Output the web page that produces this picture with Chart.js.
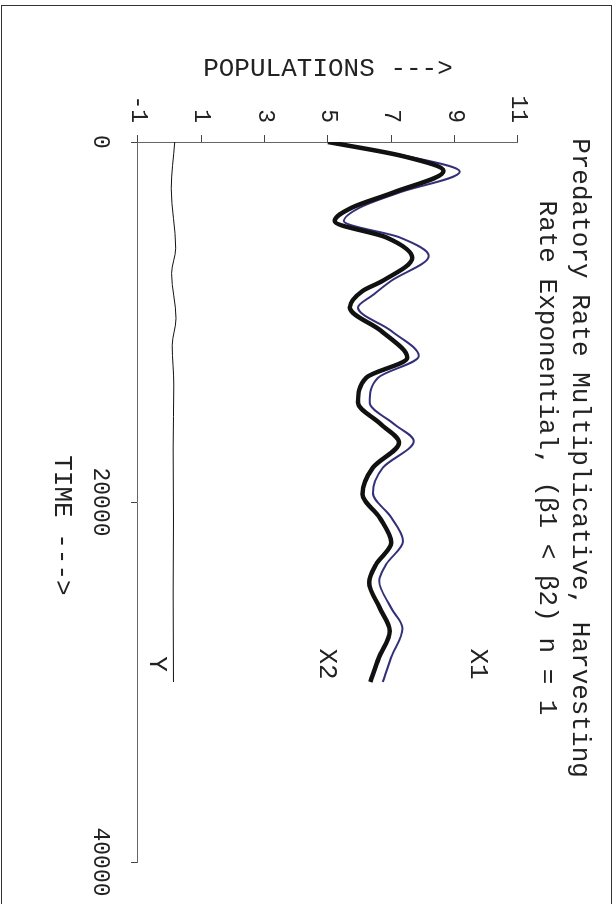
<!DOCTYPE html>
<html>
<head>
<meta charset="utf-8">
<script src="https://cdn.jsdelivr.net/npm/chart.js@4"></script>
<style>
  body { margin: 0; background: #fff; overflow: hidden; }
  #wrap {
    position: absolute; left: 0; top: 0;
    width: 904px; height: 616px;
    transform-origin: 0 0;
    transform: translate(616px, 0) rotate(90deg);
  }
</style>
</head>
<body>
<div id="wrap"><canvas id="chart" width="904" height="616"></canvas></div>
<script>
// values (time, population)
const x1Times  = [0, 780, 1650, 2800, 3650, 4390, 5300, 6330, 7720, 8500, 9200, 10500, 11890, 13100, 14480, 15690, 16610, 18100, 19490, 20870, 22170, 23460, 24390, 25870, 27020, 28650, 30000];
const x1Values = [5.0, 7.47, 9.16, 7.26, 6.0, 5.50, 7.26, 8.18, 6.99, 6.42, 5.95, 7.0, 7.87, 6.58, 6.32, 7.10, 7.71, 6.73, 6.42, 7.0, 7.37, 6.84, 6.62, 6.99, 7.35, 6.99, 6.73];

const x2Times  = [0, 780, 1610, 2800, 3650, 4390, 5300, 6430, 7720, 8280, 9200, 10500, 11980, 13090, 14480, 15690, 16700, 18090, 19570, 20870, 22260, 23460, 24480, 25870, 27170, 28650, 30000];
const x2Values = [5.0, 7.35, 8.65, 7.07, 5.75, 5.21, 6.84, 7.66, 6.72, 6.09, 5.69, 6.68, 7.50, 6.21, 5.95, 6.68, 7.24, 6.42, 6.09, 6.63, 7.00, 6.52, 6.30, 6.63, 6.95, 6.61, 6.34];

const yTimes  = [0, 2600, 5900, 7300, 9800, 11300, 13500, 17000, 21000, 25000, 30000];
const yValues = [0.16, 0.05, 0.19, 0.06, 0.20, 0.08, 0.13, 0.11, 0.12, 0.11, 0.12];

const seriesNames = ['X1', 'X2', 'Y'];
const nameTimes = [29000, 29000, 29000];
const namePops = [9.75, 4.95, -0.4];

const titleLines = ['Predatory Rate Multiplicative, Harvesting', 'Rate Exponential, (\u03b21 < \u03b22) n = 1'];

const toPoints = (xs, ys) => xs.map((t, i) => ({ x: t, y: ys[i] }));

Chart.defaults.font.family = "'Courier New', 'Liberation Mono', monospace";
Chart.defaults.color = '#222';

// frame round the picture + the series names next to the curves
const extras = {
  id: 'extras',
  afterDatasetsDraw(chart) {
    const { ctx, scales } = chart;
    ctx.save();
    ctx.font = "26px 'Courier New', 'Liberation Mono', monospace";
    ctx.fillStyle = '#222';
    ctx.textAlign = 'center';
    ctx.textBaseline = 'middle';
    seriesNames.forEach((n, i) => {
      ctx.fillText(n, scales.x.getPixelForValue(nameTimes[i]), scales.y.getPixelForValue(namePops[i]));
    });
    ctx.strokeStyle = '#333';
    ctx.lineWidth = 1;
    ctx.strokeRect(5.5, 4.5, 950, 610);
    ctx.restore();
  }
};

new Chart(document.getElementById('chart'), {
  type: 'line',
  data: {
    datasets: [
      { label: 'X2', data: toPoints(x2Times, x2Values), borderColor: '#111', borderWidth: 4.5, order: 0 },
      { label: 'X1', data: toPoints(x1Times, x1Values), borderColor: '#33307a', borderWidth: 2, order: 1 },
      { label: 'Y', data: toPoints(yTimes, yValues), borderColor: '#111', borderWidth: 1, order: 2 }
    ]
  },
  options: {
    responsive: false,
    animation: false,
    layout: { padding: { left: 54, right: 42, top: 0, bottom: 0 } },
    elements: { point: { radius: 0 }, line: { cubicInterpolationMode: 'monotone' } },
    plugins: {
      legend: { display: false },
      tooltip: { enabled: false },
      title: {
        display: true,
        text: titleLines,
        color: '#222',
        font: { size: 26, weight: 'normal', lineHeight: 1.27 },
        padding: { top: 20, bottom: 12 }
      }
    },
    scales: {
      x: {
        type: 'linear',
        min: 0, max: 40000,
        afterFit: s => { s.height = 138; s.paddingLeft = 0; s.paddingRight = 0; },
        ticks: { stepSize: 20000, font: { size: 23 }, padding: 17, maxRotation: 0, color: '#222',
                 callback: v => String(v) },
        grid: { drawOnChartArea: false, tickLength: 7, color: '#444' },
        border: { color: '#666' },
        title: { display: true, text: '   TIME --->', font: { size: 26, lineHeight: 1.27 }, padding: { top: 0, bottom: 45 }, color: '#222' }
      },
      y: {
        min: -1, max: 11,
        afterFit: s => { s.width = 88; },
        ticks: { stepSize: 2, font: { size: 23 }, padding: 12, color: '#222' },
        grid: { drawOnChartArea: false, tickLength: 7, color: '#444' },
        border: { color: '#666' },
        title: { display: true, text: 'POPULATIONS --->', font: { size: 26, lineHeight: 1.15 }, padding: 0, color: '#222' }
      }
    }
  },
  plugins: [extras]
});
</script>
</body>
</html>
